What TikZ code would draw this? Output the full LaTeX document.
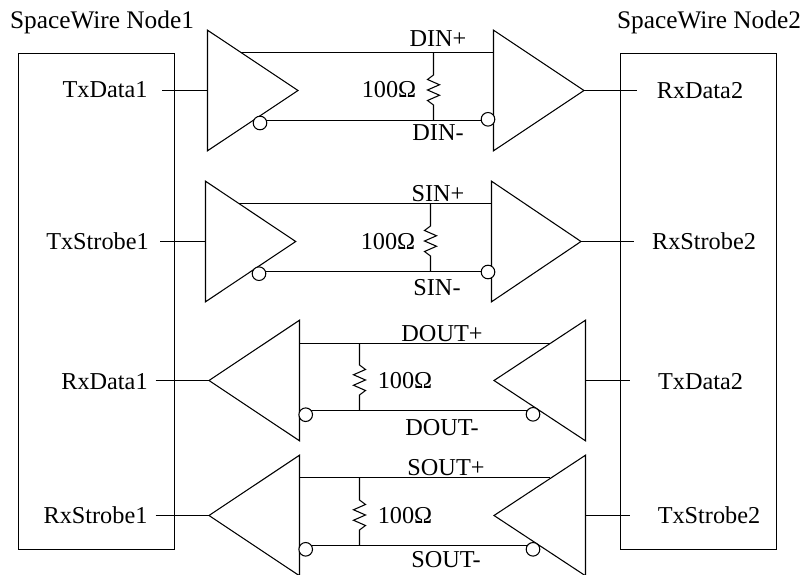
\documentclass[tikz,border=0pt]{standalone}
\usepackage{fontspec}
\setmainfont{Liberation Serif}
\tikzset{
  wire/.style={line width=0.8pt,black},
  lab/.style={font=\fontsize{18.2}{20}\selectfont,inner sep=0pt,text=black,anchor=base},
  ttl/.style={lab,font=\fontsize{19}{21}\selectfont},
  bub/.style={circle,draw,line width=0.8pt,fill=white,minimum size=10.2pt,inner sep=0pt},
  blockbox/.style={draw,line width=0.8pt,minimum width=117pt,minimum height=372pt,inner sep=0pt}
}
% #1 name, #2 x, #3 top y, #4 centre y, #5 bottom y, #6 first-swing sign
\newcommand{\resistor}[6]{
  \draw[wire,line join=miter] (#2,#3) coordinate (#1) -- (#2,#4-15)
    -- ++(#6*6,4.5) -- ++(-#6*12,5.25) -- ++(#6*12,5.25) -- ++(-#6*12,5.25) -- ++(#6*12,5.25) -- (#2,#4+15)
    -- (#2,#5);
}
% #1 prefix, #2 tri1 base x, #3 tri1 tip x, #4 tri2 base x, #5 tri2 tip x, #6 centre y
\newcommand{\triangles}[6]{
  \coordinate (#1a) at (#2,#6-60.3);
  \coordinate (#1b) at (#2,#6+60.3);
  \coordinate (#1t) at (#3,#6);
  \coordinate (#1c) at (#4,#6-60.3);
  \coordinate (#1d) at (#4,#6+60.3);
  \coordinate (#1e) at (#5,#6);
  \draw[wire,line join=miter] (#1a)--(#1t)--(#1b)--cycle;
  \draw[wire,line join=miter] (#1c)--(#1e)--(#1d)--cycle;
}
\begin{document}
\begin{tikzpicture}[x=0.75pt,y=-0.75pt]
\useasboundingbox[fill=white] (0,0) rectangle (802,574);
\node[blockbox] (N1) at (96.5,301.5) {};
\node[blockbox] (N2) at (698.5,301.5) {};
\node[ttl] (n1t) at (102,29) {SpaceWire Node1};
\node[ttl] (n2t) at (709,29) {SpaceWire Node2};

\triangles{A}{207.5}{298}{493.5}{584}{90.5}
\triangles{B}{205.5}{295.7}{491.5}{581}{241.5}
\triangles{C}{299.5}{209}{585.5}{494}{380.5}
\triangles{D}{299.5}{209}{585.5}{494}{515.5}

% pair wires
\draw[wire] (241,52.5) coordinate (Ap) -- (493.5,52.5) coordinate (Aq);
\draw[wire] (238.5,203.5) coordinate (Bp) -- (491.5,203.5) coordinate (Bq);
\draw[wire] (299.5,343.5) coordinate (Cp) -- (550,343.5) coordinate (Cq);
\draw[wire] (299.5,477.5) coordinate (Dp) -- (550,477.5) coordinate (Dq);
\draw[wire] (265,120.5) coordinate (Av) -- (482,120.5) coordinate (Aw);
\draw[wire] (264,271.5) coordinate (Bv) -- (482,271.5) coordinate (Bw);
\draw[wire] (310,410.5) coordinate (Cv) -- (528.5,410.5) coordinate (Cw);
\draw[wire] (310,545.5) coordinate (Dv) -- (528.5,545.5) coordinate (Dw);

\node[bub] (Am) at (260,123) {};
\node[bub] (An) at (488,119.3) {};
\node[bub] (Bm) at (259,273.7) {};
\node[bub] (Bn) at (488,272) {};
\node[bub] (Cm) at (305.7,414.7) {};
\node[bub] (Cn) at (533,414.3) {};
\node[bub] (Dm) at (305.7,549.3) {};
\node[bub] (Dn) at (533,549.3) {};

\resistor{Ar}{433.5}{52.5}{90}{120.5}{-1}
\resistor{Br}{430.5}{203.5}{241}{271.5}{-1}
\resistor{Cr}{359.5}{343.5}{380}{410.5}{1}
\resistor{Dr}{359.5}{477.5}{515}{545.5}{1}

% signal names
\node[lab] (t1) at (105,98) {TxData1};
\node[lab] (t2) at (97.5,249) {TxStrobe1};
\node[lab] (t3) at (104.5,389) {RxData1};
\node[lab] (t4) at (95.5,523) {RxStrobe1};
\node[lab] (r1) at (700,99) {RxData2};
\node[lab] (r2) at (704,249) {RxStrobe2};
\node[lab] (r3) at (700.5,389) {TxData2};
\node[lab] (r4) at (709,523) {TxStrobe2};

% connector stubs
\coordinate (s1) at (162,90.5);
\coordinate (s2) at (160,241.5);
\coordinate (s3) at (155.7,380.5);
\coordinate (s4) at (155.7,515.5);
\coordinate (e1) at (637,90.5);
\coordinate (e2) at (634,241.5);
\coordinate (e3) at (630,380.5);
\coordinate (e4) at (630,515.5);
\draw[wire] (s1)--(Aa |- s1);
\draw[wire] (s2)--(Ba |- s2);
\draw[wire] (s3)--(Ct);
\draw[wire] (s4)--(Dt);
\draw[wire] (Ae)--(e1);
\draw[wire] (Be)--(e2);
\draw[wire] (Cc |- e3)--(e3);
\draw[wire] (Dc |- e4)--(e4);

% line names
\node[lab] (d1) at (438,47) {DIN+};
\node[lab] (d2) at (438,141) {DIN-};
\node[lab] (d3) at (438,201) {SIN+};
\node[lab] (d4) at (437,295) {SIN-};
\node[lab] (d5) at (442,341) {DOUT+};
\node[lab] (d6) at (442,435) {DOUT-};
\node[lab] (d7) at (446,475) {SOUT+};
\node[lab] (d8) at (446,567) {SOUT-};
\node[lab] (o1) at (389,98) {100Ω};
\node[lab] (o2) at (388,249) {100Ω};
\node[lab] (o3) at (405,388) {100Ω};
\node[lab] (o4) at (405,523) {100Ω};
\end{tikzpicture}
\end{document}
